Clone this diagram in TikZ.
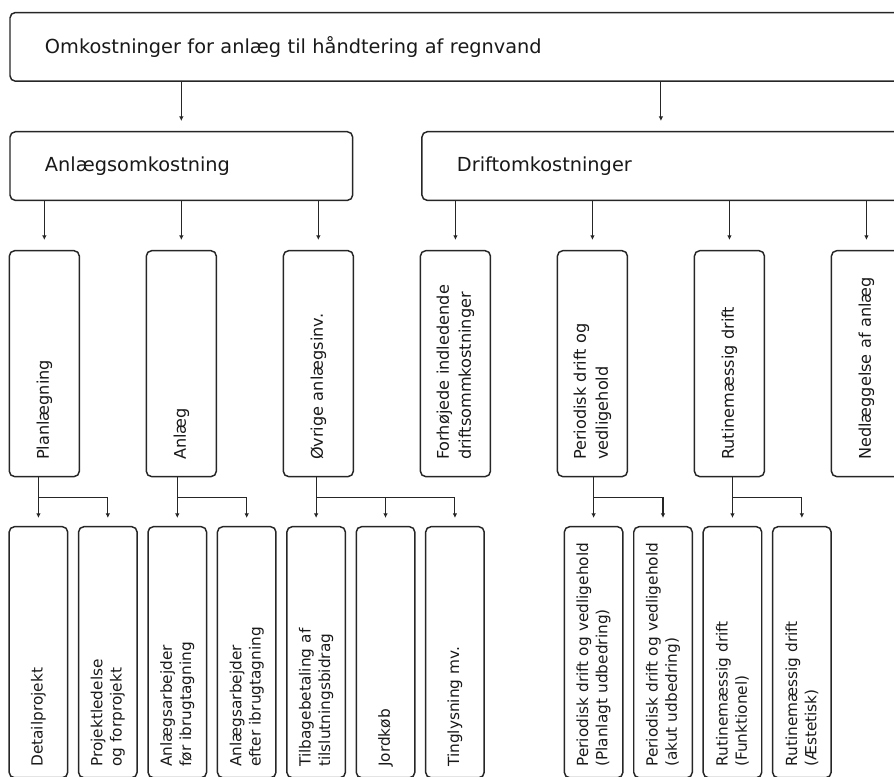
\documentclass[tikz,border=0pt]{standalone}
\usepackage{fontspec}
\setmainfont{DejaVu Sans}
\usetikzlibrary{arrows.meta}

\tikzset{
    headbox/.style={minimum height=51.5pt, inner xsep=26.25pt,
        font=\fontsize{14.5}{17.4}\selectfont},
    colbox/.style={rotate=90, minimum height=52.5pt, text width=144.45pt,
        inner xsep=12.5pt, font=\fontsize{12.1}{16.5}\selectfont},
    leafbox/.style={rotate=90, minimum height=43.9pt, text width=171.75pt,
        inner xsep=8.25pt, font=\fontsize{11.5}{14.5}\selectfont},
    link/.style={draw=black!85, line width=0.8pt,
        -{Latex[length=3.5pt,width=3.5pt]}, shorten >=6pt}
}

\begin{document}
\begin{tikzpicture}[x=0.75pt, y=-0.75pt,
            level 1/.style={level distance=89.4pt, sibling distance=359.7pt,
                edge from parent/.append style={shorten >=7.5pt},
                edge from parent path={(\tikzchildnode.north |- \tikzparentnode.south) -- (\tikzchildnode.north)}},
            level 2/.style={level distance=148.2pt, sibling distance=102.75pt,
                edge from parent path={(\tikzchildnode.east |- \tikzparentnode.south) -- (\tikzchildnode.east)}},
            level 3/.style={level distance=216.4pt, sibling distance=52.05pt,
                edge from parent/.style={draw=none}},
            edge from parent/.style={link},
            every node/.style = {draw=black!85, text=black!90, line width=1.1pt,
                rounded corners=4pt, align=left}]
            \useasboundingbox (0,0) rectangle (894,776);
            \node[headbox, text width=615pt] (total) at (455,46.85) {Omkostninger for anlæg til håndtering af regnvand}
            child[xshift=-25.4pt] { node[headbox, text width=204.5pt] (anlaeg) {Anlægsomkostning}
                child { node[colbox] (plan) {Planlægning}
                    child[xshift=21.6pt] { node[leafbox] (detail) {Detailprojekt} }
                    child[xshift=21.6pt] { node[leafbox] (forproj) {Projektledelse\\og forprojekt} }
                }
                child { node[colbox] (anl) {Anlæg}
                    child[xshift=23pt] { node[leafbox] (foer) {Anlægsarbejder\\før ibrugtagning} }
                    child[xshift=23pt] { node[leafbox] (efter) {Anlægsarbejder\\efter ibrugtagning} }
                }
                child { node[colbox] (oevrige) {Øvrige anlægsinv.}
                    child[xshift=50.4pt] { node[leafbox] (tilbage) {Tilbagebetaling af\\tilslutningsbidrag} }
                    child[xshift=50.4pt] { node[leafbox] (jord) {Jordkøb} }
                    child[xshift=50.4pt] { node[leafbox] (tingl) {Tinglysning mv.} }
                }
            }
            child[xshift=-25.4pt] { node[headbox, text width=306pt] (drift) {Driftomkostninger}
                child { node[colbox] (forhoej) {Forhøjede indledende\\driftsommkostninger} }
                child { node[colbox] (periodisk) {Periodisk drift og\\vedligehold}
                    child[xshift=26.9pt] { node[leafbox] (planlagt) {Periodisk drift og vedligehold\\(Planlagt udbedring)} }
                    child[xshift=26.9pt] { node[leafbox] (akut) {Periodisk drift og vedligehold\\(akut udbedring)} }
                }
                child { node[colbox] (rutine) {Rutinemæssig drift}
                    child[xshift=28.3pt] { node[leafbox] (funktionel) {Rutinemæssig drift\\(Funktionel)} }
                    child[xshift=28.3pt] { node[leafbox] (aestetisk) {Rutinemæssig drift\\(Æstetisk)} }
                }
                child { node[colbox] (nedlaeg) {Nedlæggelse af anlæg} }
            };
            % lower tier: stem under each column, then a bar
            \foreach \up/\first/\rest in {plan/detail/forproj, anl/foer/efter,
                    oevrige/tilbage/{jord,tingl}, periodisk/planlagt/akut,
                    rutine/funktionel/aestetisk} {
                \draw[link] (\first.east |- \up.west) -- (\first.east);
                \foreach \kid in \rest
                    \draw[link] (\first.east |- \up.west) ++(0,20.6) -| (\kid.east);
            }
        \end{tikzpicture}
\end{document}
